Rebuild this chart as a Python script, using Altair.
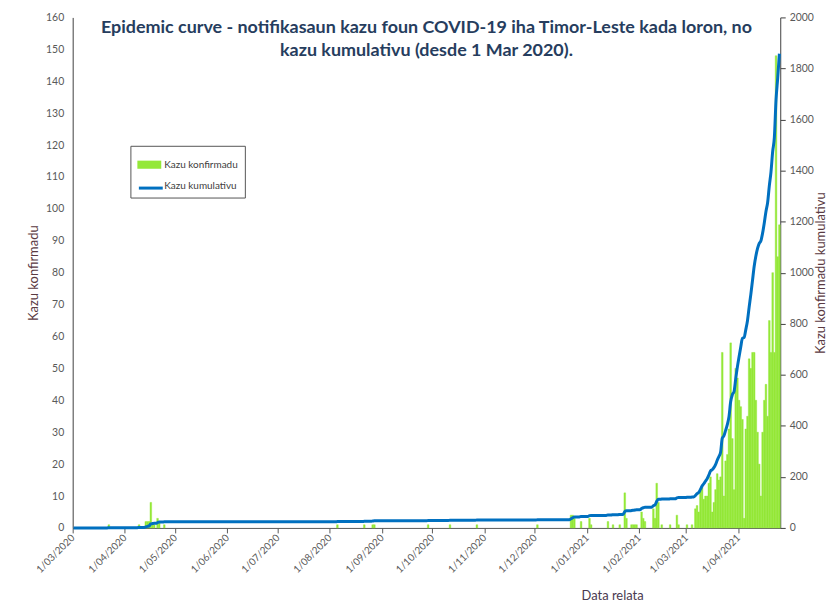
import altair as alt
import pandas as pd

# ---- data ----
case_dates = [
    "2020-03-22", "2020-04-09", "2020-04-13", "2020-04-14", "2020-04-15", "2020-04-16",
    "2020-04-17", "2020-04-18", "2020-04-20", "2020-04-21", "2020-04-24",
    "2020-08-05", "2020-08-21", "2020-08-26", "2020-08-27",
    "2020-09-28", "2020-10-11", "2020-10-27", "2020-12-02",
    "2020-12-22", "2020-12-23", "2020-12-24", "2020-12-28",
    "2021-01-02", "2021-01-03", "2021-01-13", "2021-01-16", "2021-01-20",
    "2021-01-23", "2021-01-24", "2021-01-27", "2021-01-28", "2021-01-29", "2021-01-30",
    "2021-02-02", "2021-02-03", "2021-02-04", "2021-02-09", "2021-02-10", "2021-02-11",
    "2021-02-12", "2021-02-14", "2021-02-19", "2021-02-23", "2021-02-24",
    "2021-03-01", "2021-03-04", "2021-03-06", "2021-03-07", "2021-03-08", "2021-03-09",
    "2021-03-10", "2021-03-11", "2021-03-12", "2021-03-13", "2021-03-14", "2021-03-15",
    "2021-03-16", "2021-03-17", "2021-03-18", "2021-03-19", "2021-03-20", "2021-03-21",
    "2021-03-22", "2021-03-23", "2021-03-24", "2021-03-25", "2021-03-26", "2021-03-27",
    "2021-03-28", "2021-03-29", "2021-03-30", "2021-03-31", "2021-04-01", "2021-04-02",
    "2021-04-03", "2021-04-04", "2021-04-05", "2021-04-06", "2021-04-07", "2021-04-08",
    "2021-04-09", "2021-04-10", "2021-04-11", "2021-04-12", "2021-04-13", "2021-04-14",
    "2021-04-15", "2021-04-16", "2021-04-17", "2021-04-18", "2021-04-19", "2021-04-20",
    "2021-04-21", "2021-04-22", "2021-04-23", "2021-04-24", "2021-04-25",
]
case_counts = [
    1, 1, 2, 2, 2, 8,
    1, 1, 3, 2, 1,
    1, 1, 1, 1,
    1, 1, 1, 1,
    4, 4, 3, 2,
    3, 1, 2, 1, 1,
    11, 3, 1, 1, 1, 1,
    5, 3, 2, 6, 3, 14,
    8, 1, 1, 4, 1,
    1, 1, 6, 7, 5, 12,
    13, 9, 10, 10, 14, 16,
    5, 8, 12, 17, 15, 16,
    55, 10, 21, 23, 31, 58,
    28, 12, 50, 47, 40, 38,
    34, 3, 31, 35, 53, 50,
    55, 55, 40, 30, 20, 10,
    30, 40, 45, 35, 65, 55,
    80, 55, 148, 85, 95,
]

series_names = ["Kazu konfirmadu", "Kazu kumulativu"]
series_colors = ["#94E838", "#0070C0"]
tick_months = [(2020, m) for m in range(3, 13)] + [(2021, m) for m in range(1, 5)]
left_ticks = list(range(0, 161, 10))
right_ticks = list(range(0, 2001, 200))
title_lines = [
    "Epidemic curve - notifikasaun kazu foun COVID-19 iha Timor-Leste kada loron, no",
    "kazu kumulativu (desde 1 Mar 2020).",
]

# ---- build tables ----
days = pd.date_range("2020-03-01", "2021-04-25", freq="D")
daily = pd.Series(0, index=days, dtype=int)
for d, c in zip(case_dates, case_counts):
    daily[pd.Timestamp(d)] += c
cum = daily.cumsum()

df = pd.DataFrame({
    "date": days.strftime("%Y-%m-%dT00:00:00"),
    "date_end": (days + pd.Timedelta(days=1)).strftime("%Y-%m-%dT00:00:00"),
    "mid": days.strftime("%Y-%m-%dT12:00:00"),
    "daily": daily.values,
    "cum": cum.values,
    "series": series_names[0],
    "series2": series_names[1],
})
bar_df = df[df["daily"] > 0]

FONT = "Lato"
xscale = alt.Scale(domain=[alt.DateTime(year=2020, month=3, date=1),
                           alt.DateTime(year=2021, month=4, date=26)])
xaxis = alt.Axis(
    values=[alt.DateTime(year=y, month=m, date=1) for y, m in tick_months],
    format="%-d/%m/%Y", labelAngle=-45, labelAlign="right", labelBaseline="middle",
    labelPadding=3, tickSize=5, tickColor="#595959", domainColor="#595959",
    labelColor="#595959", labelFontSize=10, labelFont=FONT,
    titleFont=FONT, titleFontSize=13, titleFontWeight="normal", titleColor="#4a3a50",
    titleX=542, titleY=62, titleAlign="center", grid=False, labelOverlap=False,
)

wide_rect = "M-1,-0.34L1,-0.34L1,0.34L-1,0.34Z"
LEG_X, LEG_Y, ROW_PAD, ROW_STEP = 58, 129, 4, 22

# legend 1: box with both labels; green swatch + empty slot
legend_box = alt.Legend(
    title=None, orient="none", legendX=LEG_X, legendY=LEG_Y, strokeColor="#555555",
    fillColor="white", padding=7, rowPadding=ROW_PAD, labelFont=FONT, labelFontSize=10,
    labelColor="#404040", labelOffset=3, symbolType=wide_rect, symbolSize=576,
    symbolStrokeWidth=0, symbolOpacity=1, zindex=1,
)
# legend 2: only the blue line symbol, drawn into the empty slot of legend 1
legend_line = alt.Legend(
    title=None, orient="none", legendX=LEG_X, legendY=LEG_Y + ROW_STEP, padding=7,
    labelFont=FONT, labelFontSize=10, labelExpr="''", labelOffset=3,
    symbolType="stroke", symbolSize=576, symbolStrokeWidth=3, zindex=2,
)

bars = alt.Chart(bar_df).mark_bar(stroke=series_colors[0], strokeWidth=0.4).encode(
    x=alt.X("date:T", scale=xscale, axis=xaxis, title="Data relata"),
    x2="date_end:T",
    y=alt.Y("daily:Q", scale=alt.Scale(domain=[0, 160], nice=False),
            title="Kazu konfirmadu",
            axis=alt.Axis(values=left_ticks, ticks=False, labelPadding=9, grid=False,
                          domainColor="#404040", labelColor="#595959", labelFont=FONT,
                          labelFontSize=10.5, titleFont=FONT, titleFontSize=13,
                          titleFontWeight="normal", titleColor="#5a3a42", titlePadding=5)),
    y2=alt.datum(0),
    fill=alt.Fill("series:N",
                  scale=alt.Scale(domain=series_names,
                                  range=[series_colors[0], "transparent"]),
                  legend=legend_box),
)

line = alt.Chart(df).mark_line(interpolate="monotone", strokeWidth=3).encode(
    x=alt.X("mid:T", scale=xscale, axis=xaxis, title="Data relata"),
    y=alt.Y("cum:Q", scale=alt.Scale(domain=[0, 2000], nice=False),
            title="Kazu konfirmadu kumulativu",
            axis=alt.Axis(orient="right", values=right_ticks, format="d", tickSize=5,
                          tickColor="#404040", domainColor="#404040", labelPadding=4,
                          labelColor="#595959", labelFont=FONT, labelFontSize=10.5,
                          titleFont=FONT, titleFontSize=13, titleFontWeight="normal",
                          titleColor="#5a3a42", titleAngle=270, titlePadding=14,
                          grid=False)),
    stroke=alt.Stroke("series2:N",
                      scale=alt.Scale(domain=[series_names[1]], range=[series_colors[1]]),
                      legend=legend_line),
)

chart = alt.layer(bars, line).resolve_scale(y="independent").properties(
    width=711, height=513,
    title=alt.TitleParams(text=title_lines, font=FONT, fontSize=18, fontWeight="bold",
                          color="#263D5E", anchor="middle", frame="group", offset=-48,
                          lineHeight=23),
    padding={"left": 19, "top": 3, "right": 2, "bottom": 5},
    background="white",
).configure_view(stroke="transparent")

chart.save("out.html", embed_options={"renderer": "svg", "actions": False})
